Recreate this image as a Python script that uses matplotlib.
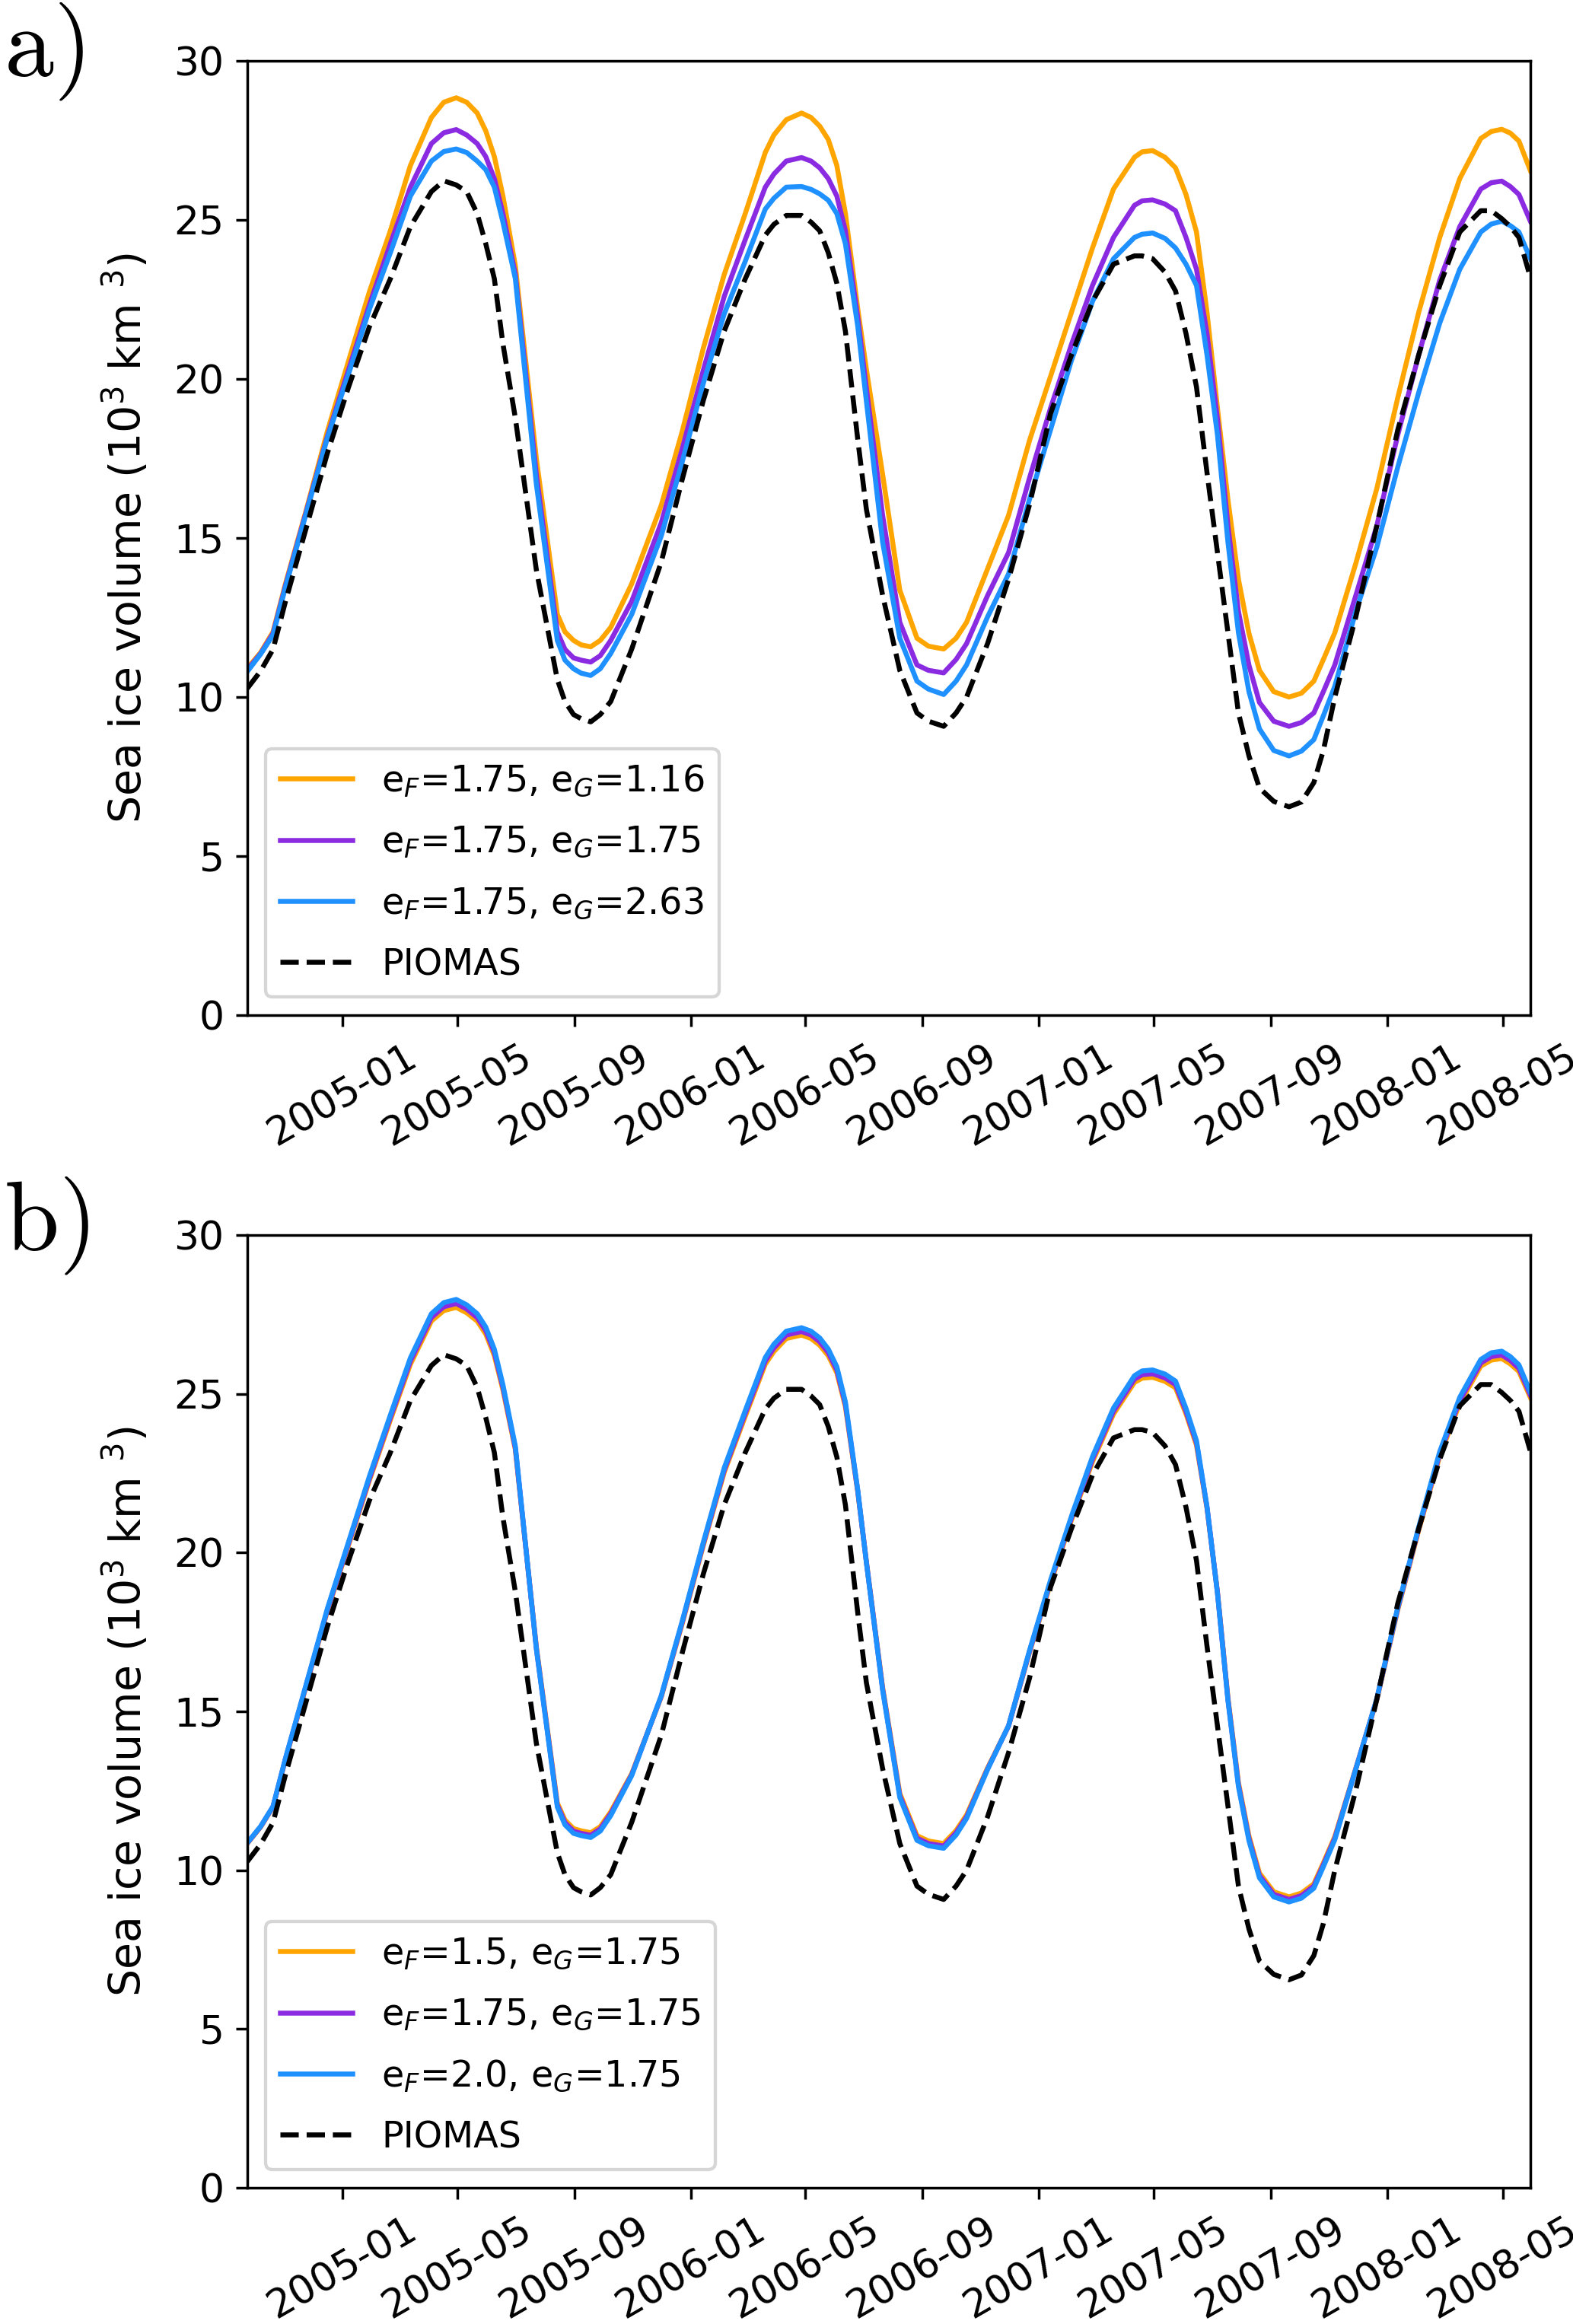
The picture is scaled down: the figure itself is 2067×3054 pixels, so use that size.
import numpy as np
import matplotlib
matplotlib.use("Agg")
import matplotlib.pyplot as plt
import matplotlib.dates as mdates

# sample dates (shared by both panels)
dates = ["2004-09-23", "2004-10-07", "2004-10-20", "2004-11-02", "2004-11-24",
         "2004-12-16", "2005-01-07", "2005-01-29", "2005-02-20", "2005-03-13",
         "2005-04-04", "2005-04-17", "2005-04-30", "2005-05-11", "2005-05-22",
         "2005-05-31", "2005-06-09", "2005-06-18", "2005-07-01", "2005-07-23",
         "2005-08-14", "2005-08-22", "2005-08-31", "2005-09-08", "2005-09-18",
         "2005-09-28", "2005-10-09", "2005-10-31", "2005-12-01", "2005-12-23",
         "2006-01-14", "2006-02-05", "2006-02-27", "2006-03-20", "2006-03-29",
         "2006-04-11", "2006-04-27", "2006-05-07", "2006-05-16", "2006-05-25",
         "2006-06-03", "2006-06-12", "2006-06-25", "2006-07-04", "2006-07-21",
         "2006-08-08", "2006-08-26", "2006-09-07", "2006-09-23", "2006-10-06",
         "2006-10-17", "2006-11-08", "2006-11-30", "2006-12-22", "2007-01-13",
         "2007-02-04", "2007-02-26", "2007-03-20", "2007-04-11", "2007-04-19",
         "2007-04-30", "2007-05-13", "2007-05-24", "2007-06-04", "2007-06-15",
         "2007-06-26", "2007-07-07", "2007-07-18", "2007-07-29", "2007-08-09",
         "2007-08-20", "2007-09-04", "2007-09-20", "2007-10-03", "2007-10-16",
         "2007-10-26", "2007-11-07", "2007-11-29", "2007-12-21", "2008-01-12",
         "2008-02-03", "2008-02-25", "2008-03-17", "2008-04-08", "2008-04-19",
         "2008-04-30", "2008-05-09", "2008-05-18", "2008-05-30"]

# panel a: e_F=1.75 with e_G = 1.16 / 1.75 / 2.63
vol_eG116 = [10.9, 11.4, 12.05, 13.56, 15.9, 18.36, 20.55, 22.74, 24.66, 26.71,
             28.22, 28.7, 28.84, 28.7, 28.36, 27.8, 26.99, 25.75, 23.56, 17.5,
             12.6, 12.05, 11.78, 11.64, 11.58, 11.78, 12.19, 13.56, 16.03, 18.36,
             20.96, 23.29, 25.2, 27.12, 27.67, 28.15, 28.36, 28.22, 27.95, 27.53,
             26.71, 25.2, 22.19, 20.3, 17.0, 13.36, 11.85, 11.6, 11.51, 11.85,
             12.35, 14.03, 15.71, 18.07, 20.08, 22.1, 24.12, 25.97, 26.97, 27.14,
             27.18, 26.97, 26.64, 25.8, 24.62, 22.1, 19.08, 16.2, 13.7, 12.0,
             10.84, 10.17, 10.0, 10.12, 10.5, 11.18, 12.02, 14.2, 16.55, 19.41,
             22.1, 24.45, 26.3, 27.56, 27.78, 27.85, 27.73, 27.48, 26.55]
vol_eG175 = [10.85, 11.37, 12.0, 13.5, 15.85, 18.2, 20.27, 22.33, 24.25, 26.03,
             27.4, 27.74, 27.84, 27.67, 27.4, 26.99, 26.3, 25.2, 23.29, 17.0,
             12.05, 11.5, 11.23, 11.16, 11.1, 11.3, 11.78, 13.01, 15.48, 17.81,
             20.27, 22.6, 24.38, 26.03, 26.44, 26.85, 26.96, 26.85, 26.64, 26.3,
             25.75, 24.66, 21.92, 19.7, 15.71, 12.35, 11.01, 10.84, 10.76, 11.18,
             11.68, 13.19, 14.54, 16.89, 19.08, 21.09, 22.94, 24.45, 25.46, 25.6,
             25.63, 25.5, 25.29, 24.45, 23.45, 21.43, 18.74, 15.38, 12.69, 11.0,
             9.83, 9.24, 9.08, 9.2, 9.5, 10.17, 11.01, 13.19, 15.38, 18.24,
             20.76, 23.11, 24.79, 25.97, 26.17, 26.22, 26.05, 25.8, 24.96]
vol_eG263 = [10.8, 11.35, 11.95, 13.45, 15.8, 18.15, 20.14, 22.19, 23.97, 25.75,
             26.85, 27.15, 27.23, 27.12, 26.85, 26.58, 26.03, 24.93, 23.15, 16.7,
             11.78, 11.16, 10.89, 10.75, 10.68, 10.89, 11.37, 12.6, 15.07, 17.4,
             19.86, 22.05, 23.7, 25.34, 25.68, 26.03, 26.05, 25.96, 25.82, 25.62,
             25.2, 24.25, 21.64, 19.3, 14.87, 11.85, 10.5, 10.25, 10.08, 10.5,
             11.01, 12.52, 13.87, 16.22, 18.4, 20.59, 22.44, 23.78, 24.45, 24.55,
             24.59, 24.42, 24.12, 23.61, 22.94, 20.76, 18.24, 14.87, 12.02, 10.17,
             9.0, 8.32, 8.15, 8.3, 8.66, 9.41, 10.34, 12.69, 14.71, 17.23,
             19.58, 21.76, 23.45, 24.62, 24.87, 24.96, 24.82, 24.62, 23.78]

# panel b: e_G=1.75 with e_F = 1.5 / 1.75 / 2.0
vol_eF150 = [10.84, 11.36, 11.99, 13.48, 15.82, 18.16, 20.22, 22.27, 24.17, 25.93,
             27.29, 27.62, 27.72, 27.55, 27.29, 26.88, 26.2, 25.12, 23.24, 17.04,
             12.12, 11.58, 11.31, 11.24, 11.18, 11.37, 11.84, 13.04, 15.46, 17.77,
             20.22, 22.53, 24.29, 25.93, 26.33, 26.74, 26.85, 26.74, 26.53, 26.2,
             25.66, 24.59, 21.9, 19.71, 15.76, 12.42, 11.09, 10.92, 10.84, 11.25,
             11.74, 13.22, 14.54, 16.86, 19.03, 21.03, 22.86, 24.36, 25.36, 25.49,
             25.52, 25.39, 25.19, 24.37, 23.38, 21.4, 18.76, 15.43, 12.76, 11.08,
             9.91, 9.32, 9.16, 9.28, 9.57, 10.23, 11.06, 13.2, 15.36, 18.2,
             20.71, 23.04, 24.7, 25.87, 26.06, 26.11, 25.94, 25.7, 24.88]
vol_eF175 = vol_eG175  # same run as in panel a
vol_eF200 = [10.86, 11.38, 12.01, 13.52, 15.88, 18.24, 20.32, 22.4, 24.33, 26.13,
             27.52, 27.87, 27.97, 27.8, 27.52, 27.1, 26.4, 25.28, 23.35, 16.97,
             11.99, 11.43, 11.16, 11.09, 11.03, 11.23, 11.72, 12.98, 15.5, 17.85,
             20.32, 22.67, 24.47, 26.14, 26.56, 26.97, 27.08, 26.97, 26.76, 26.41,
             25.85, 24.74, 21.95, 19.68, 15.67, 12.29, 10.94, 10.77, 10.69, 11.11,
             11.63, 13.17, 14.55, 16.92, 19.13, 21.15, 23.02, 24.55, 25.57, 25.72,
             25.75, 25.62, 25.4, 24.54, 23.52, 21.45, 18.72, 15.34, 12.63, 10.93,
             9.76, 9.16, 9.0, 9.12, 9.43, 10.11, 10.96, 13.18, 15.4, 18.28,
             20.81, 23.18, 24.89, 26.08, 26.29, 26.34, 26.17, 25.91, 25.05]

piomas = [10.27, 10.82, 11.5, 13.0, 15.34, 17.67, 19.73, 21.64, 23.15, 24.79,
          25.89, 26.23, 26.1, 25.89, 25.2, 24.25, 23.15, 21.1, 18.77, 14.0,
          10.55, 9.86, 9.45, 9.32, 9.22, 9.45, 9.86, 11.51, 14.25, 16.85,
          19.32, 21.51, 23.15, 24.52, 24.86, 25.14, 25.14, 24.93, 24.66, 23.97,
          23.01, 21.5, 18.08, 15.9, 13.2, 10.84, 9.5, 9.24, 9.08, 9.5,
          10.0, 11.68, 13.7, 16.05, 18.91, 20.76, 22.44, 23.61, 23.87, 23.87,
          23.78, 23.36, 22.77, 21.43, 19.75, 17.06, 14.54, 12.02, 9.5, 8.15,
          7.14, 6.72, 6.55, 6.7, 7.31, 8.32, 10.0, 12.52, 15.38, 18.4,
          20.76, 22.94, 24.62, 25.29, 25.29, 25.04, 24.79, 24.45, 23.19]

labels_a = [r"e$_F$=1.75, e$_G$=1.16", r"e$_F$=1.75, e$_G$=1.75", r"e$_F$=1.75, e$_G$=2.63"]
labels_b = [r"e$_F$=1.5, e$_G$=1.75", r"e$_F$=1.75, e$_G$=1.75", r"e$_F$=2.0, e$_G$=1.75"]
colors = ["orange", "blueviolet", "dodgerblue"]

t = np.array(dates, dtype="datetime64[D]")

dpi = 312
fig = plt.figure(figsize=(2067 / dpi, 3054 / dpi), dpi=dpi)
ax_a = fig.add_axes([0.1572, 0.5632, 0.8157, 0.4106])
ax_b = fig.add_axes([0.1572, 0.0586, 0.8157, 0.4100])

panels = [(ax_a, [vol_eG116, vol_eG175, vol_eG263], labels_a, "a)"),
          (ax_b, [vol_eF150, vol_eF175, vol_eF200], labels_b, "b)")]

for ax, series, labels, tag in panels:
    for y, lab, c in zip(series, labels, colors):
        ax.plot(t, y, color=c, lw=1.5, label=lab)
    ax.plot(t, piomas, "k--", lw=1.5, label="PIOMAS")
    ax.set_xlim(t[0], t[-1])
    ax.set_ylim(0, 30)
    ax.set_yticks(range(0, 31, 5))
    ax.xaxis.set_major_locator(mdates.MonthLocator(bymonth=[1, 5, 9]))
    ax.xaxis.set_major_formatter(mdates.DateFormatter("%Y-%m"))
    ax.tick_params(labelsize=12)
    for lbl in ax.get_xticklabels():
        lbl.set_rotation(30)
    ax.set_ylabel("Sea ice volume (10$^3$ km $^3$)", fontsize=13.2, labelpad=7)
    ax.legend(loc="lower left", fontsize=11, labelspacing=0.7)
    pos = ax.get_position()
    fig.text(5 / 2067, pos.y1 - 20 / 3054, r"$\mathrm{" + tag + "}$",
             math_fontfamily="cm", fontsize=30, va="baseline", ha="left")

fig.savefig("out.png", dpi=dpi)
